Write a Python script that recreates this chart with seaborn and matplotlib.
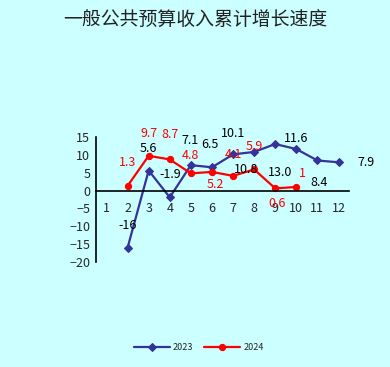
"""Cumulative growth of general public budget revenue, 2023 vs 2024."""

import matplotlib
matplotlib.use("Agg")
import matplotlib.pyplot as plt
import numpy as np
import pandas as pd
import seaborn as sns

BG = "#ccffff"
NAVY = "#333399"
RED = "#ff0000"

TITLE = "一般公共预算收入累计增长速度"
months = list(range(1, 13))
growth_2023 = [np.nan, -16, 5.6, -1.9, 7.1, 6.5, 10.1, 10.8, 13.0, 11.6, 8.4, 7.9]
labels_2023 = ["", "-16", "5.6", "-1.9", "7.1", "6.5", "10.1", "10.8", "13.0", "11.6", "8.4", "7.9"]
growth_2024 = [np.nan, 1.3, 9.7, 8.7, 4.8, 5.2, 4.1, 5.9, 0.6, 1.0, np.nan, np.nan]
labels_2024 = ["", "1.3", "9.7", "8.7", "4.8", "5.2", "4.1", "5.9", "0.6", "1", "", ""]

# label offsets in pixels (dx, dy)
OFF_2023 = [(0, 0), (0, 22), (0, 22), (0, 23), (-1, 25), (-2, 23), (0, 21),
            (-8, -18), (5, -28), (0, 11), (2, -22), (19, 0)]
OFF_2024 = [(0, 0), (0, 23), (0, 22), (0, 25), (0, 18), (3, -13), (0, 21),
            (0, 23), (2, -15), (6, 13), (0, 0), (0, 0)]

sns.set_theme(style="white")
plt.rcParams["font.family"] = ["Noto Sans CJK SC", "DejaVu Sans"]

df = pd.DataFrame({"month": months, "2023": growth_2023, "2024": growth_2024})

fig = plt.figure(figsize=(3.9, 3.67), dpi=100, facecolor=BG)
ax = fig.add_axes([0.246, 0.286, 0.649, 0.341])
ax.set_facecolor(BG)

sns.lineplot(data=df, x="month", y="2023", ax=ax, color=NAVY, marker="D",
             markersize=7, markeredgecolor=NAVY, linewidth=1.6, label="2023")
sns.lineplot(data=df, x="month", y="2024", ax=ax, color=RED, marker="o",
             markersize=8, markeredgecolor=RED, linewidth=1.6, label="2024")

for m, v, t, (dx, dy) in zip(months, growth_2023, labels_2023, OFF_2023):
    if t:
        ax.annotate(t, (m, v), xytext=(dx, dy), textcoords="offset pixels",
                    ha="left" if m == 12 else "center", va="center",
                    fontsize=9, color="black")
for m, v, t, (dx, dy) in zip(months, growth_2024, labels_2024, OFF_2024):
    if t:
        ax.annotate(t, (m, v), xytext=(dx, dy), textcoords="offset pixels",
                    ha="center", va="center", fontsize=9, color=RED)

ax.set_xlim(0.5, 12.5)
ax.set_ylim(-20, 15)
ax.set_yticks(range(-20, 16, 5))
ax.set_xticks(months)
ax.set_xticks(np.arange(0.5, 13, 1), minor=True)
ax.tick_params(axis="x", which="major", length=0, pad=8, labelsize=9)
ax.tick_params(axis="x", which="minor", direction="in", length=4, width=1)
ax.tick_params(axis="y", direction="in", length=4, width=1, labelsize=9, pad=4)
ax.set_xlabel("")
ax.set_ylabel("")

for side in ["top", "right"]:
    ax.spines[side].set_visible(False)
ax.spines["bottom"].set_position(("data", 0))
for side in ["left", "bottom"]:
    ax.spines[side].set_color("black")
    ax.spines[side].set_linewidth(1.2)

fig.text(0.5, 0.943, TITLE, ha="center", va="center", fontsize=13.6, color="#222222")

ax.get_legend().remove()
handles, lbls = ax.get_legend_handles_labels()
for h in handles:
    h.set_markersize(4.5)
fig.legend(handles, lbls, loc="center", bbox_to_anchor=(0.51, 0.052), ncol=2,
           frameon=False, fontsize=6.5, handlelength=4, columnspacing=1.2,
           handletextpad=0.3)

fig.savefig("out.png", dpi=100, facecolor=BG)
